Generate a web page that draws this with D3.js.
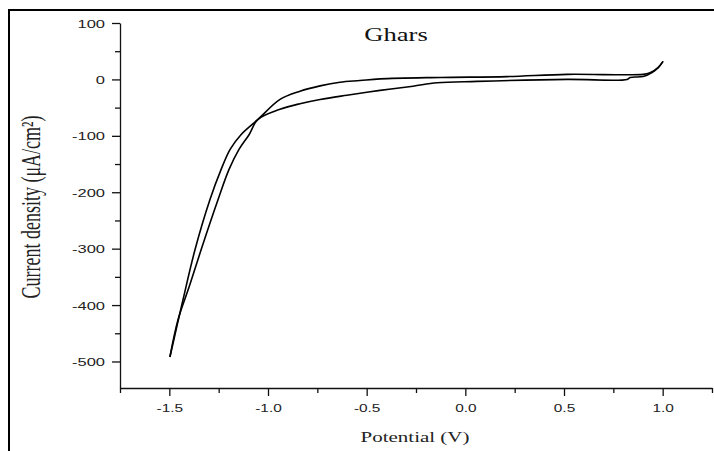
<!DOCTYPE html>
<html>
<head>
<meta charset="utf-8">
<script src="https://cdn.jsdelivr.net/npm/d3@7"></script>
<style>
  body { margin: 0; background: #fff; }
  svg { display: block; }
</style>
</head>
<body>
<script>
// Values
// branch 1: outer side of the steep part, upper side of the flat part
var potential1 = [-1.497, -1.431, -1.370, -1.294, -1.238, -1.192, -1.137, -1.051,
                  -0.939, -0.838, -0.736, -0.635, -0.534, -0.432, -0.128, 0.211,
                  0.516, 0.901, 0.936, 0.977, 1.002];
var current1 = [-492, -391, -302, -213, -160, -124, -98, -71,
                -35.5, -21, -11.5, -5, -2, 1, 3.5, 5,
                9, 9, 12, 21, 32];

// branch 2: inner side of the steep part, lower side of the flat part
var potential2 = [-1.497, -1.456, -1.400, -1.339, -1.253, -1.198, -1.147, -1.096, -1.051,
                  -0.939, -0.838, -0.736, -0.600, -0.432, -0.265, -0.143, 0.059,
                  0.516, 0.820, 0.835, 0.901, 0.946, 0.977, 1.002];
var current2 = [-492, -426, -368, -302, -213, -160, -124, -98, -71,
                -53, -43, -35.5, -28, -19.5, -12, -6, -3.5,
                0, 0, 3.5, 5, 12, 21, 32];

var xTicks = [-1.5, -1.0, -0.5, 0.0, 0.5, 1.0];
var xMinor = [-1.75, -1.25, -0.75, -0.25, 0.25, 0.75, 1.25];
var yTicks = [100, 0, -100, -200, -300, -400, -500];
var yMinor = [50, -50, -150, -250, -350, -450];

var width = 714, height = 451;

var svg = d3.select("body").append("svg")
    .attr("width", width)
    .attr("height", height);

// outer frame (only top and left edges are visible)
svg.append("path")
    .attr("d", "M9,451V10H714")
    .attr("fill", "none")
    .attr("stroke", "#000")
    .attr("stroke-width", 2);

// scales
var x = d3.scaleLinear().domain([-1.75, 1.25]).range([120, 712]);
var y = d3.scaleLinear().domain([-547, 100]).range([388, 23]);

// x axis
var gx = svg.append("g").attr("transform", "translate(0," + y(-547) + ")");
gx.call(d3.axisBottom(x).tickValues(xMinor).tickSize(5).tickSizeOuter(0).tickFormat(""));
gx.append("g").call(d3.axisBottom(x).tickValues(xTicks).tickSize(8).tickSizeOuter(0)
    .tickFormat(function(d) { return d.toFixed(1); }))
  .select(".domain").remove();

// y axis
var gy = svg.append("g").attr("transform", "translate(" + x(-1.75) + ",0)");
gy.call(d3.axisLeft(y).tickValues(yMinor).tickSize(5).tickSizeOuter(0).tickFormat(""));
gy.append("g").call(d3.axisLeft(y).tickValues(yTicks).tickSize(8).tickSizeOuter(0)
    .tickFormat(function(d) { return String(d); }))
  .select(".domain").remove();

svg.selectAll(".domain, .tick line")
    .attr("stroke", "#111")
    .attr("stroke-width", 1.3);

// tick labels are stretched sideways like the original
gx.selectAll(".tick text")
    .attr("x", 0).attr("y", 0).attr("dy", 0)
    .attr("transform", "translate(0,24) scale(1.4,1)")
    .attr("font-family", "'Liberation Sans', Arial, sans-serif")
    .attr("font-size", 11)
    .attr("fill", "#222");

gy.selectAll(".tick text")
    .attr("x", 0).attr("y", 0).attr("dy", 0)
    .attr("text-anchor", "end")
    .attr("transform", "translate(-15,4) scale(1.5,1)")
    .attr("font-family", "'Liberation Sans', Arial, sans-serif")
    .attr("font-size", 11)
    .attr("fill", "#222");

// curves
var line = d3.line()
    .x(function(d) { return x(d[0]); })
    .y(function(d) { return y(d[1]); })
    .curve(d3.curveCatmullRom.alpha(0.5));

var branches = [d3.zip(potential1, current1), d3.zip(potential2, current2)];

svg.selectAll("path.branch")
    .data(branches)
    .enter()
    .append("path")
    .attr("class", "branch")
    .attr("d", line)
    .attr("fill", "none")
    .attr("stroke", "#000")
    .attr("stroke-width", 1.6);

// title
svg.append("text")
    .attr("transform", "translate(396,41) scale(1.4,1)")
    .attr("text-anchor", "middle")
    .attr("font-family", "'Liberation Serif', 'Times New Roman', serif")
    .attr("font-size", 19)
    .attr("fill", "#111")
    .text("Ghars");

// axis titles
svg.append("text")
    .attr("transform", "translate(415,442) scale(1.5,1)")
    .attr("text-anchor", "middle")
    .attr("font-family", "'Liberation Serif', 'Times New Roman', serif")
    .attr("font-size", 14)
    .attr("fill", "#222")
    .text("Potential (V)");

svg.append("text")
    .attr("transform", "translate(31,207) scale(1.5,1) rotate(-90)")
    .attr("text-anchor", "middle")
    .attr("dy", "0.35em")
    .attr("font-family", "'Liberation Serif', 'Times New Roman', serif")
    .attr("font-size", 18)
    .attr("fill", "#222")
    .text("Current density (μA/cm²)");
</script>
</body>
</html>
